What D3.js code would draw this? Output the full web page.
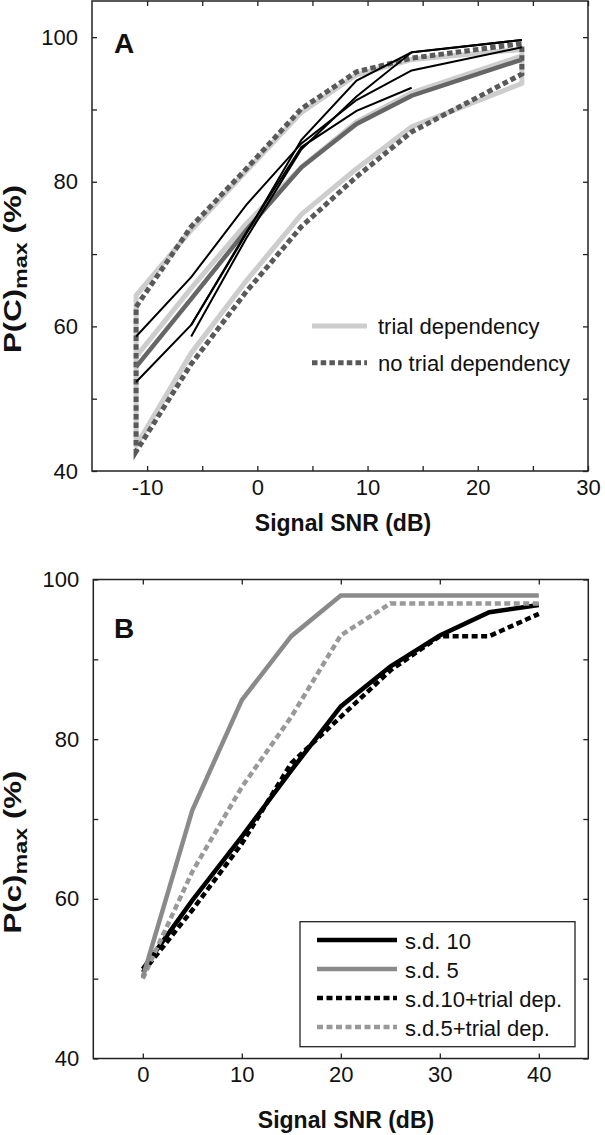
<!DOCTYPE html>
<html><head><meta charset="utf-8">
<script src="https://cdn.jsdelivr.net/npm/d3@7"></script>
<style>body{margin:0;background:#fff} text{font-family:"Liberation Sans",Arial,sans-serif;fill:#111}</style>
</head><body><svg id="c" width="605" height="1135" style="display:block;background:#fff"></svg>
<script>
// ---------- Panel A data ----------
const snrA = [-11, -6, -1, 4, 9, 14, 24];
const trialUpper   = [64.3, 73.3, 81.5, 89.6, 94.8, 96.9, 98.3];
const trialLower   = [43.5, 56.3, 66.3, 75.5, 81.8, 87.6, 93.6];
const trialMid     = [55.8, 65.3, 74.2, 82.0, 88.3, 92.3, 97.4];
const noTrialUpper = [62.7, 73.8, 81.8, 90.1, 95.2, 97.1, 99.1];
const noTrialLower = [42.7, 54.8, 64.8, 73.8, 80.7, 86.9, 94.9];
const noTrialMid   = [54.4, 63.8, 73.3, 82.0, 88.0, 91.9, 96.9];
const listener1X = [-11, -6, -1, 4, 9, 14, 24];
const listener1  = [58.6, 66.8, 76.8, 85.3, 91.3, 95.4, 98.6];
const listener2X = [-11, -6, -1, 4, 9, 14, 24];
const listener2  = [52.3, 60.2, 72.8, 85.8, 94.0, 97.9, 99.6];
const listener3X = [-6, -1, 4, 9, 14, 24];
const listener3  = [58.6, 72.2, 84.5, 91.8, 97.9, 99.6];
const listener4X = [-6, -1, 4, 9, 14];
const listener4  = [60.2, 73.0, 84.8, 89.8, 93.0];
const xTicksA = [-10, -5, 0, 5, 10, 15, 20, 25, 30];
const xLabelsA = [-10, 0, 10, 20, 30];
const yTicksA = [40, 50, 60, 70, 80, 90, 100];
const yLabelsA = [40, 60, 80, 100];
const legendA = ["trial dependency", "no trial dependency"];

// ---------- Panel B data ----------
const snrB = [0, 5, 10, 15, 20, 25, 30, 35, 40];
const sd10      = [51.2, 59.8, 67.8, 76.1, 84.1, 89.1, 93.0, 95.9, 96.8];
const sd5       = [50.2, 71.1, 84.9, 92.9, 98.0, 98.0, 98.0, 98.0, 98.0];
const sd10Trial = [50.8, 58.6, 66.9, 77.0, 82.8, 88.6, 92.9, 92.9, 95.7];
const sd5Trial  = [50.0, 63.4, 74.0, 82.8, 93.0, 97.0, 97.0, 97.0, 97.0];
const xTicksB = [0, 10, 20, 30, 40];
const yTicksB = [40, 50, 60, 70, 80, 90, 100];
const yLabelsB = [40, 60, 80, 100];
const legendB = ["s.d. 10", "s.d. 5", "s.d.10+trial dep.", "s.d.5+trial dep."];

const svg = d3.select("#c");
const FONT = 22;

function frame(g, x, y, xt, xl, yt, yl) {
  const [x0, x1] = x.range(), [y0, y1] = y.range();
  const fmt = lab => d => lab.includes(d) ? String(d) : "";
  const bottom = g.append("g").attr("transform", `translate(0,${y0})`)
    .call(d3.axisBottom(x).tickValues(xt).tickSizeInner(-5).tickSizeOuter(0).tickPadding(8).tickFormat(fmt(xl)));
  const top = g.append("g").attr("transform", `translate(0,${y1})`)
    .call(d3.axisTop(x).tickValues(xt).tickSizeInner(-5).tickSizeOuter(0).tickFormat(""));
  const left = g.append("g").attr("transform", `translate(${x0},0)`)
    .call(d3.axisLeft(y).tickValues(yt).tickSizeInner(-5).tickSizeOuter(0).tickPadding(14).tickFormat(fmt(yl)));
  const right = g.append("g").attr("transform", `translate(${x1},0)`)
    .call(d3.axisRight(y).tickValues(yt).tickSizeInner(-5).tickSizeOuter(0).tickFormat(""));
  [bottom, top, left, right].forEach(a => {
    a.select(".domain").remove();
    a.selectAll(".tick line").attr("stroke", "#222").attr("stroke-width", 1.3);
    a.selectAll("text").attr("font-size", FONT).attr("fill", "#111")
      .style("font-family", '"Liberation Sans",Arial,sans-serif');
  });
  g.append("rect").attr("x", x0).attr("y", y1).attr("width", x1 - x0).attr("height", y0 - y1)
    .attr("fill", "none").attr("stroke", "#222").attr("stroke-width", 1.5);
}

function yTitle(g, cx, cy, main) {
  const t = g.append("text").attr("transform", `translate(${cx},${cy}) rotate(-90) scale(1.3,1)`)
    .attr("text-anchor", "middle").attr("font-size", 24).attr("font-weight", "bold");
  t.append("tspan").text(main);
  t.append("tspan").attr("font-size", 18).attr("dy", 6).text("max");
  t.append("tspan").attr("dy", -6).text(" (%)");
}

// ================= Panel A =================
const xA = d3.scaleLinear().domain([-15, 30]).range([92, 588]);
const yA = d3.scaleLinear().domain([40, 105]).range([471, 1]);
const gA = svg.append("g");
const lineA = d3.line().x(d => xA(d[0])).y(d => yA(d[1]));
const zipA = (xs, ys) => xs.map((v, i) => [v, ys[i]]);
const outline = (up, lo) => zipA(snrA, up).concat(zipA(snrA, lo).reverse());

const plotA = gA.append("g");
plotA.append("path").datum(outline(trialUpper, trialLower)).attr("d", d => lineA(d) + "Z")
  .attr("fill", "none").attr("stroke", "#cdcdcd").attr("stroke-width", 5).attr("stroke-linejoin", "round");
plotA.append("path").datum(zipA(snrA, trialMid)).attr("d", lineA)
  .attr("fill", "none").attr("stroke", "#cdcdcd").attr("stroke-width", 5);
plotA.append("path").datum(outline(noTrialUpper, noTrialLower)).attr("d", d => lineA(d) + "Z")
  .attr("fill", "none").attr("stroke", "#595959").attr("stroke-width", 5).attr("stroke-dasharray", "5.5,3.2");
plotA.append("path").datum(zipA(snrA, noTrialMid)).attr("d", lineA)
  .attr("fill", "none").attr("stroke", "#666").attr("stroke-width", 4.5);
[[listener1X, listener1], [listener2X, listener2], [listener3X, listener3], [listener4X, listener4]].forEach(([xs, ys]) => {
  plotA.append("path").datum(zipA(xs, ys)).attr("d", lineA)
    .attr("fill", "none").attr("stroke", "#000").attr("stroke-width", 2);
});
frame(gA, xA, yA, xTicksA, xLabelsA, yTicksA, yLabelsA);

gA.append("text").attr("x", 114).attr("y", 53).attr("font-size", 28).attr("font-weight", "bold").text("A");
const legA = gA.append("g");
legendA.forEach((t, i) => {
  const yy = 326 + i * 36.7;
  const l = legA.append("line").attr("x1", 312).attr("x2", 367).attr("y1", yy).attr("y2", yy)
    .attr("stroke-width", 5);
  if (i === 0) l.attr("stroke", "#cdcdcd");
  else l.attr("stroke", "#595959").attr("stroke-dasharray", "5.5,3.2");
  legA.append("text").attr("x", 378).attr("y", yy + 8).attr("font-size", FONT).text(t);
});
gA.append("text").attr("x", 343).attr("y", 531).attr("text-anchor", "middle")
  .attr("font-size", 23).attr("font-weight", "bold").text("Signal SNR (dB)");
yTitle(gA, 21, 269, "P(C)");

// ================= Panel B =================
const xB = d3.scaleLinear().domain([-5, 45]).range([93.3, 588.3]);
const yB = d3.scaleLinear().domain([40, 100]).range([1058.5, 579.5]);
const gB = svg.append("g");
const lineB = d3.line().x((d, i) => xB(snrB[i])).y(d => yB(d));
const plotB = gB.append("g");
plotB.append("path").datum(sd10Trial).attr("d", lineB).attr("fill", "none")
  .attr("stroke", "#000").attr("stroke-width", 4.5).attr("stroke-dasharray", "6,3.5");
plotB.append("path").datum(sd10).attr("d", lineB).attr("fill", "none")
  .attr("stroke", "#000").attr("stroke-width", 4.5);
plotB.append("path").datum(sd5Trial).attr("d", lineB).attr("fill", "none")
  .attr("stroke", "#999").attr("stroke-width", 4.5).attr("stroke-dasharray", "6,3.5");
plotB.append("path").datum(sd5).attr("d", lineB).attr("fill", "none")
  .attr("stroke", "#8a8a8a").attr("stroke-width", 4.5);
frame(gB, xB, yB, xTicksB, xTicksB, yTicksB, yLabelsB);
gB.append("text").attr("x", 114).attr("y", 638).attr("font-size", 28).attr("font-weight", "bold").text("B");

const legB = gB.append("g");
legB.append("rect").attr("x", 300).attr("y", 921.7).attr("width", 275).attr("height", 125)
  .attr("fill", "#fff").attr("stroke", "#222").attr("stroke-width", 1.3);
const legStyles = [["#000", null], ["#8a8a8a", null], ["#000", "6,3.5"], ["#999", "6,3.5"]];
legendB.forEach((t, i) => {
  const yy = 940 + i * 29;
  const l = legB.append("line").attr("x1", 317).attr("x2", 397).attr("y1", yy).attr("y2", yy)
    .attr("stroke", legStyles[i][0]).attr("stroke-width", 4.5);
  if (legStyles[i][1]) l.attr("stroke-dasharray", legStyles[i][1]);
  legB.append("text").attr("x", 405).attr("y", yy + 9).attr("font-size", FONT).text(t);
});
gB.append("text").attr("x", 346).attr("y", 1128).attr("text-anchor", "middle")
  .attr("font-size", 23).attr("font-weight", "bold").text("Signal SNR (dB)");
yTitle(gB, 21, 852, "P(c)");
</script></body></html>
